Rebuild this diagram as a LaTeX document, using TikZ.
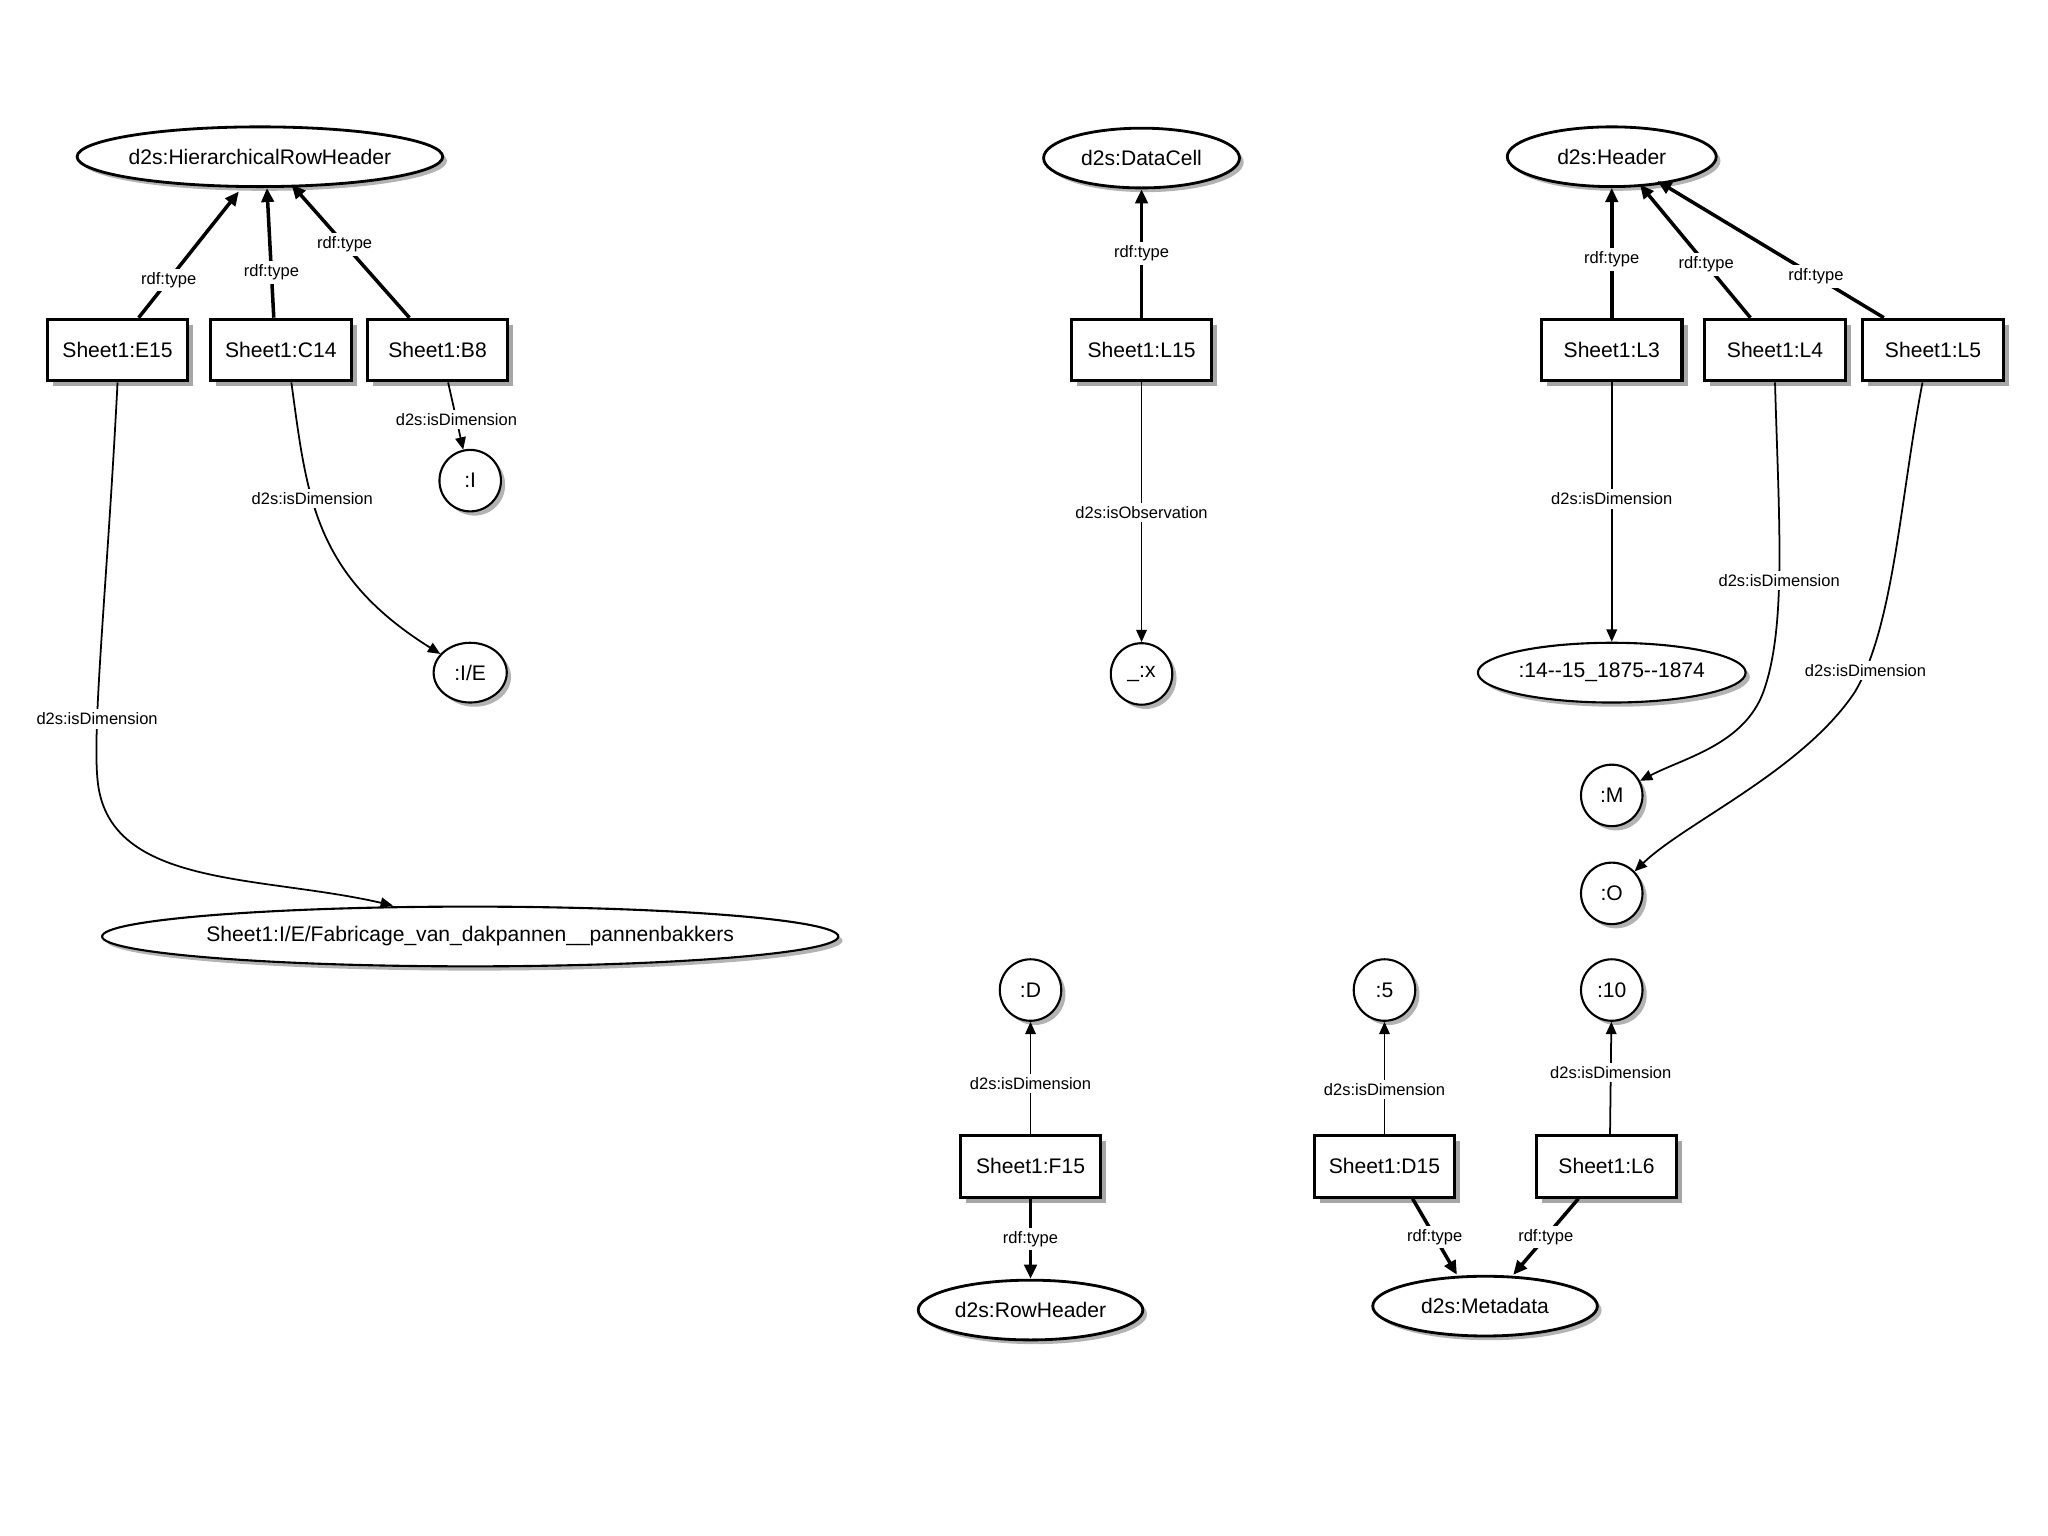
\documentclass[tikz,border=0pt]{standalone}
\usepackage{fontspec}
\setmainfont{Liberation Sans}
\usetikzlibrary{shapes.geometric, shadows, arrows.meta}

\begin{document}
\begin{tikzpicture}
      [x=0.013061cm, y=-0.013061cm
      ,w/.style={minimum width=#1*0.3716pt}
      ,cls/.style={draw, ellipse, fill=white, line width=.8pt, inner sep=-1pt, minimum height=17pt, font=\fontsize{6}{7}\selectfont, drop shadow={opacity=.6, shadow xshift=1.2pt, shadow yshift=-1.2pt}}
      ,val/.style={draw, circle, fill=white, line width=.6pt, inner sep=0pt, minimum size=17.5pt, font=\fontsize{6}{7}\selectfont, drop shadow={opacity=.6, shadow xshift=1.2pt, shadow yshift=-1.2pt}}
      ,cell/.style={draw, rectangle, fill=white, line width=.9pt, minimum width=40pt, minimum height=17.5pt, font=\fontsize{6}{7}\selectfont, drop shadow={opacity=.7, shadow xshift=1.6pt, shadow yshift=-1.6pt}}
      ,rel/.style={-{Triangle[length=3.5pt, width=3pt]}, line width=.5pt}
      ,typ/.style={-{Triangle[length=4pt, width=3.5pt]}, line width=1pt}
      ,lbl/.style={fill=white, inner sep=1pt, font=\fontsize{4.7}{5.5}\selectfont}
      ]
        \useasboundingbox (0,0) rectangle (1568,1176);

        % classes
        \node[cls, w=280] (hrh) at (199,120) {d2s:HierarchicalRowHeader};
        \node[cls, w=150] (dc) at (874,121) {d2s:DataCell};
        \node[cls, w=160] (hdr) at (1234,120) {d2s:Header};
        \node[cls, w=172] (rh) at (789,1003) {d2s:RowHeader};
        \node[cls, w=172] (md) at (1137,1000) {d2s:Metadata};

        % cells
        \foreach \n/\x/\y/\t in {e15/90/268/E15, c14/215/268/C14, b8/335/268/B8, l15/874/268/L15,
                                 l3/1234/268/L3, l4/1359/268/L4, l5/1480/268/L5,
                                 f15/789/893/F15, d15/1060/893/D15, l6/1230/893/L6}
            \node[cell] (\n) at (\x,\y) {Sheet1:\t};

        % values
        \node[val] (i) at (360,368) {:I};
        \node[cls, w=56, line width=.6pt] (ie) at (360,515) {:I/E};
        \node[cls, w=550, line width=.6pt] (fab) at (360,717) {Sheet1:I/E/Fabricage\_van\_dakpannen\_\_pannenbakkers};
        \node[val] (x) at (874,516) {\_:x};
        \node[cls, w=205, line width=.6pt] (yr) at (1234,515) {:14-{}-15\_1875-{}-1874};
        \node[val] (m) at (1234,609) {:M};
        \node[val] (o) at (1234,684) {:O};
        \node[val] (ten) at (1234,758) {:10};
        \node[val] (d) at (789,758) {:D};
        \node[val] (five) at (1060,758) {:5};

        % rdf:type
        \draw[typ] ([xshift=6pt]e15.north) -- node[lbl, pos=.3] {rdf:type} ([xshift=-6pt,yshift=-1pt]hrh.south);
        \draw[typ] ([xshift=-2pt]c14.north) -- node[lbl, pos=.35] {rdf:type} ([xshift=2pt]hrh.south);
        \draw[typ] ([xshift=-8pt]b8.north) -- node[lbl, pos=.55] {rdf:type} ([xshift=9pt,yshift=1pt]hrh.south);
        \draw[typ] (l15) -- node[lbl, pos=.5] {rdf:type} (dc);
        \draw[typ] (l3) -- node[lbl, pos=.45] {rdf:type} (hdr);
        \draw[typ] ([xshift=-7pt]l4.north) -- node[lbl, pos=.4] {rdf:type} ([xshift=8pt,yshift=1pt]hdr.south);
        \draw[typ] ([xshift=-14pt]l5.north) -- node[lbl, pos=.3] {rdf:type} ([xshift=13pt,yshift=2pt]hdr.south);
        \draw[typ] (f15) -- node[lbl] {rdf:type} (rh);
        \draw[typ] ([xshift=8pt]d15.south) -- node[lbl] {rdf:type} ([xshift=-8pt]md.north);
        \draw[typ] ([xshift=-8pt]l6.south) -- node[lbl] {rdf:type} ([xshift=8pt]md.north);

        % dimensions
        \draw[rel] ([xshift=3pt]b8.south) -- node[lbl, pos=.55] {d2s:isDimension} (i);
        \draw[rel] ([xshift=3pt]c14.south) .. controls (235,380) and (240,440) .. node[lbl, pos=.38] {d2s:isDimension} (ie);
        \draw[rel] (e15.south) .. controls (82,450) and (70,560) .. node[lbl, pos=.72] {d2s:isDimension} (75,600) .. controls (85,680) and (200,670) .. ([xshift=-22pt]fab.north);
        \draw[rel] (l15) -- node[lbl] {d2s:isObservation} (x);
        \draw[rel] (l3) -- node[lbl, pos=.45] {d2s:isDimension} (yr);
        \draw[rel] (l4.south) .. controls (1362,400) and (1368,480) .. node[lbl, pos=.55] {d2s:isDimension} (1350,530) .. controls (1335,570) and (1290,580) .. (m);
        \draw[rel] ([xshift=-3pt]l5.south) .. controls (1455,380) and (1450,480) .. node[lbl, pos=.9] {d2s:isDimension} (1420,530) .. controls (1380,590) and (1290,630) .. (o);
        \draw[rel] (f15) -- node[lbl, pos=.45] {d2s:isDimension} (d);
        \draw[rel] (d15) -- node[lbl, pos=.4] {d2s:isDimension} (five);
        \draw[rel] ([xshift=1pt]l6.north) -- node[lbl, pos=.55] {d2s:isDimension} (ten);
\end{tikzpicture}
\end{document}
